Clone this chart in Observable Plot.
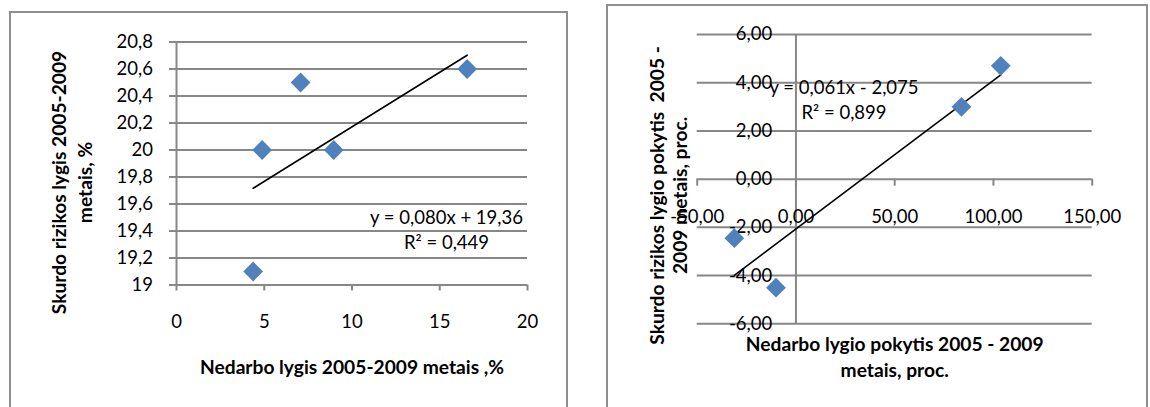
<!DOCTYPE html>
<html><head><meta charset="utf-8">
<script src="https://cdn.jsdelivr.net/npm/d3@7"></script>
<script src="https://cdn.jsdelivr.net/npm/@observablehq/plot@0.6"></script>
<style>
html,body{margin:0;padding:0;background:#fff;}
#page{position:relative;width:1150px;height:407px;overflow:hidden;background:#fff;font-family:Lato,sans-serif;}
.frame{position:absolute;box-sizing:border-box;border:2px solid #8f8f8f;background:#fff;}
.chart{position:absolute;top:0;}
</style></head><body>
<div id="page">
  <div class="frame" style="left:9px;top:11px;width:559px;height:440px"></div>
  <div class="frame" style="left:606px;top:4px;width:542px;height:440px"></div>
  <div class="chart" id="left" style="left:0px"></div>
  <div class="chart" id="right" style="left:590px"></div>
</div>
<script>
// ---------- Left chart data ----------
const leftX = [4.37, 4.88, 7.07, 8.96, 16.56];          // Nedarbo lygis 2005-2009, %
const leftY = [19.1, 20.0, 20.5, 20.0, 20.6];           // Skurdo rizikos lygis 2005-2009, %
const leftXTicks = [0, 5, 10, 15, 20];
const leftXTickLabels = ["0", "5", "10", "15", "20"];
const leftYTicks = [19, 19.2, 19.4, 19.6, 19.8, 20, 20.2, 20.4, 20.6, 20.8];
const leftYTickLabels = ["19", "19,2", "19,4", "19,6", "19,8", "20", "20,2", "20,4", "20,6", "20,8"];
const leftEquation = ["y = 0,080x + 19,36\nR² = 0,449"];
const leftXTitle = ["Nedarbo lygis 2005-2009 metais ,%"];
const leftYTitle = ["Skurdo rizikos lygis 2005-2009\nmetais, %"];

// ---------- Right chart data ----------
const rightX = [-31.2, -10.1, 83.8, 103.7];             // Nedarbo lygio pokytis, proc.
const rightY = [-2.45, -4.5, 3.0, 4.7];                 // Skurdo rizikos lygio pokytis, proc.
const rightXTicks = [-50, 0, 50, 100, 150];
const rightXTickLabels = ["-50,00", "0,00", "50,00", "100,00", "150,00"];
const rightYTicks = [-6, -4, -2, 0, 2, 4, 6];
const rightYTickLabels = ["-6,00", "-4,00", "-2,00", "0,00", "2,00", "4,00", "6,00"];
const rightEquation = ["y = 0,061x - 2,075\nR² = 0,899"];
const rightXTitle = ["Nedarbo lygio pokytis 2005 - 2009\nmetais, proc."];
const rightYTitle = ["Skurdo rizikos lygio pokytis  2005 -\n2009 metais, proc."];

const GRID = "#878787";
const MARK = "#4f81bd";
const FONT = "Lato, sans-serif";
const FS = 18.5;
const FSB = 19.2;

const leftData = leftX.map((x, i) => ({x, y: leftY[i]}));
const rightData = rightX.map((x, i) => ({x, y: rightY[i]}));

const left = Plot.plot({
  width: 580, height: 407,
  marginLeft: 176, marginRight: 53, marginTop: 41.5, marginBottom: 122.5,
  style: {background: "transparent", fontFamily: FONT, fontSize: FS + "px", color: "black", overflow: "visible"},
  x: {domain: [0, 20]},
  y: {domain: [19, 20.8]},
  marks: [
    Plot.ruleY(leftYTicks, {stroke: GRID, strokeWidth: 2, insetLeft: -7}),
    Plot.ruleX([0], {stroke: GRID, strokeWidth: 2}),
    Plot.ruleX(leftXTicks, {y1: 19, y2: 19, insetBottom: -6, stroke: GRID, strokeWidth: 2}),
    Plot.axisY(leftYTicks, {tickSize: 0, tickPadding: 23.5, fontSize: FS, fill: "black",
      tickFormat: d => leftYTickLabels[leftYTicks.indexOf(d)], label: null}),
    Plot.axisX(leftXTicks, {tickSize: 0, tickPadding: 30, fontSize: FS, fill: "black",
      tickFormat: d => leftXTickLabels[leftXTicks.indexOf(d)], label: null}),
    Plot.linearRegressionY(leftData, {x: "x", y: "y", stroke: "black", strokeWidth: 1.6, ci: 0}),
    Plot.dot(leftData, {x: "x", y: "y", symbol: "diamond2", r: 8.9, fill: MARK, stroke: null}),
    Plot.text(leftEquation, {frameAnchor: "top-left", dx: 270, dy: 186, text: d => d,
      textAnchor: "middle", lineAnchor: "middle", lineHeight: 25 / FS, fontSize: FS, fill: "black"}),
    Plot.text(leftXTitle, {frameAnchor: "bottom", dy: 83, text: d => d, lineAnchor: "middle",
      fontSize: FSB, fontWeight: "bold", fill: "black"}),
    Plot.text(leftYTitle, {frameAnchor: "left", dx: -105.4, dy: 19, rotate: -90, text: d => d,
      lineAnchor: "middle", textAnchor: "middle", lineHeight: 26 / FSB, fontSize: FSB, fontWeight: "bold", fill: "black"})
  ]
});
document.getElementById("left").appendChild(left);

const right = Plot.plot({
  width: 560, height: 407,
  marginLeft: 106.7, marginRight: 58.3, marginTop: 34, marginBottom: 83.7,
  style: {background: "transparent", fontFamily: FONT, fontSize: FS + "px", color: "black", overflow: "visible"},
  x: {domain: [-50, 150], axis: null},
  y: {domain: [-6, 6], axis: null},
  marks: [
    Plot.ruleY(rightYTicks, {stroke: GRID, strokeWidth: 2}),
    Plot.ruleX([0], {stroke: GRID, strokeWidth: 2}),
    Plot.ruleX(rightXTicks, {y1: 0, y2: 0, insetBottom: -7, stroke: GRID, strokeWidth: 2}),
    Plot.text(rightYTicks, {x: 0, y: d => d, text: d => rightYTickLabels[rightYTicks.indexOf(d)],
      textAnchor: "end", dx: -23.7, fontSize: FS, fill: "black"}),
    Plot.text(rightXTicks, {x: d => d, y: 0, text: d => rightXTickLabels[rightXTicks.indexOf(d)],
      dy: 38.4, fontSize: FS, fill: "black"}),
    Plot.linearRegressionY(rightData, {x: "x", y: "y", stroke: "black", strokeWidth: 1.6, ci: 0}),
    Plot.dot(rightData, {x: "x", y: "y", symbol: "diamond2", r: 8.9, fill: MARK, stroke: null}),
    Plot.text(rightEquation, {frameAnchor: "top-left", dx: 146.8, dy: 63.9, text: d => d,
      textAnchor: "middle", lineAnchor: "middle", lineHeight: 25.7 / FS, fontSize: FS, fill: "black"}),
    Plot.text(rightXTitle, {frameAnchor: "bottom", dy: 31.7, text: d => d, lineAnchor: "middle",
      textAnchor: "middle", lineHeight: 26.6 / FSB, fontSize: FSB, fontWeight: "bold", fill: "black"}),
    Plot.text(rightYTitle, {frameAnchor: "left", dx: -29, dy: 16.3, rotate: -90, text: d => d,
      lineAnchor: "middle", textAnchor: "middle", lineHeight: 23.3 / FSB, fontSize: FSB, fontWeight: "bold", fill: "black"})
  ]
});
document.getElementById("right").appendChild(right);
</script>
</body></html>
